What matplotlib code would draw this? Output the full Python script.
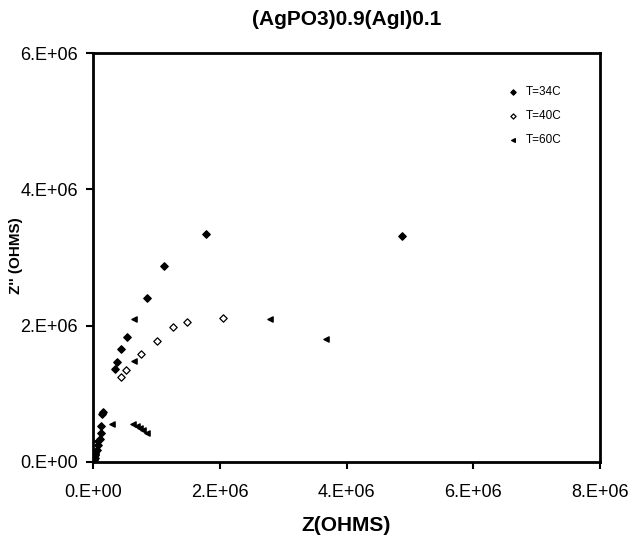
import matplotlib
matplotlib.use('Agg')
import matplotlib.pyplot as plt
from matplotlib.ticker import FuncFormatter

plt.rcParams['font.family'] = ['Liberation Sans', 'DejaVu Sans']

# T=34C
z34_re = [1.78e6, 4.87e6, 1.12e6, 0.85e6, 0.53e6, 0.44e6, 0.38e6, 0.35e6,
          0.16e6, 0.14e6, 0.12e6, 0.12e6, 0.10e6, 0.08e6, 0.06e6, 0.03e6, 0.03e6, 0.01e6]
z34_im = [3.35e6, 3.31e6, 2.87e6, 2.40e6, 1.83e6, 1.65e6, 1.47e6, 1.37e6,
          0.73e6, 0.70e6, 0.52e6, 0.42e6, 0.34e6, 0.25e6, 0.18e6, 0.10e6, 0.06e6, 0.02e6]
# T=40C
z40_re = [0.44e6, 0.51e6, 0.76e6, 1.01e6, 1.26e6, 1.48e6, 2.05e6]
z40_im = [1.25e6, 1.35e6, 1.59e6, 1.77e6, 1.98e6, 2.06e6, 2.11e6]
# T=60C
z60_re = [0.65e6, 0.65e6, 2.79e6, 3.67e6, 0.30e6, 0.63e6, 0.69e6, 0.74e6, 0.79e6, 0.85e6,
          0.05e6, 0.04e6]
z60_im = [2.09e6, 1.48e6, 2.09e6, 1.81e6, 0.56e6, 0.56e6, 0.52e6, 0.49e6, 0.47e6, 0.42e6,
          0.30e6, 0.15e6]

fig = plt.figure(figsize=(6.3, 5.37), dpi=100)
ax = fig.add_axes([0.148, 0.140, 0.804, 0.761])

ax.scatter(z34_re, z34_im, marker='D', s=14, c='black', label='T=34C', zorder=3)
ax.scatter(z40_re, z40_im, marker='D', s=14, facecolors='white', edgecolors='black',
           linewidths=0.9, label='T=40C', zorder=3)
ax.scatter(z60_re, z60_im, marker='<', s=14, c='black', label='T=60C', zorder=3)

ax.set_xlim(0, 8e6)
ax.set_ylim(0, 6e6)
ax.set_xticks([0, 2e6, 4e6, 6e6, 8e6])
ax.set_yticks([0, 2e6, 4e6, 6e6])
fmt = FuncFormatter(lambda v, p: '%d.E+%02d' % (round(v / 1e6), 6 if v else 0))
ax.xaxis.set_major_formatter(fmt)
ax.yaxis.set_major_formatter(fmt)
ax.tick_params(direction='out', length=5, width=1.5, labelsize=13)
ax.tick_params(axis='x', pad=11)
ax.tick_params(axis='y', pad=6)
for s in ax.spines.values():
    s.set_linewidth(2)

ax.set_title('(AgPO3)0.9(AgI)0.1', fontsize=15, fontweight='bold', pad=20)
ax.set_xlabel('Z(OHMS)', fontsize=15, fontweight='bold', labelpad=11)
fig.text(16 / 630, 1 - 256 / 537, "Z'' (OHMS)", rotation=90, fontsize=11,
         fontweight='bold', ha='center', va='center')

ax.legend(loc='upper right', frameon=False, fontsize=8.5, handletextpad=0.1,
          markerscale=0.7, labelspacing=1.0, bbox_to_anchor=(0.945, 0.945))

fig.savefig('out.png', dpi=100)
